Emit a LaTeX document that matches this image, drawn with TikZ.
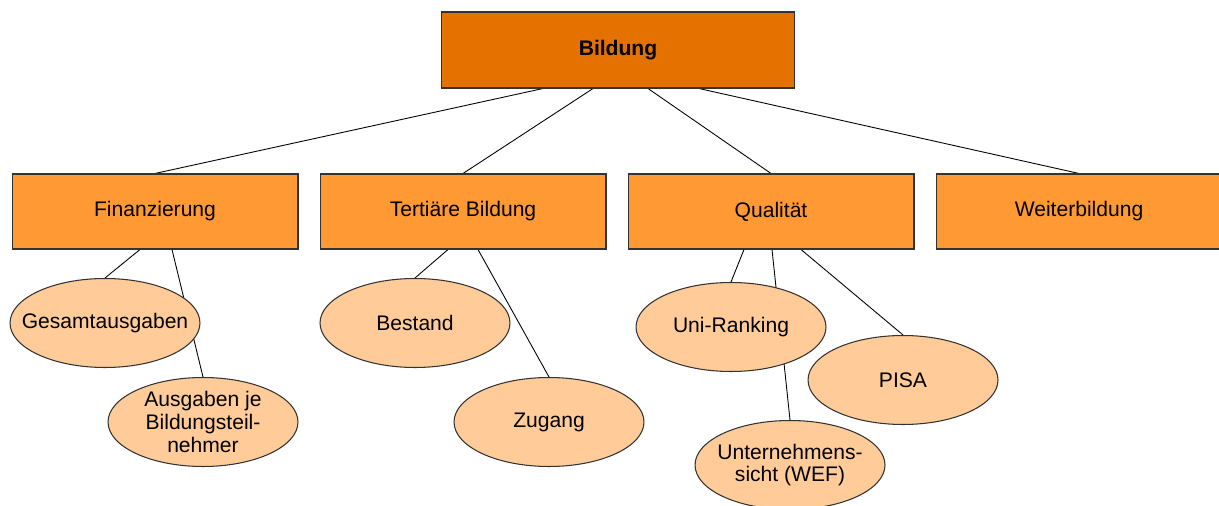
\documentclass[tikz,border=0pt]{standalone}
\usepackage{fontspec}
\setmainfont{Liberation Sans}
\usepackage[rgb]{xcolor}
\usetikzlibrary{calc,backgrounds,shapes.geometric}

\definecolor{topfill}{RGB}{229,114,0}
\definecolor{boxfill}{RGB}{255,153,51}
\definecolor{ellfill}{RGB}{255,204,153}

\begin{document}
\begin{tikzpicture}[x=0.02cm, y=-0.02cm,
                    every node/.style={font=\fontsize{12}{13}\selectfont, text=black},
                    topbox/.style={draw=black!80, line width=0.6pt, fill=topfill, minimum width=7.06cm, minimum height=1.52cm, font=\fontsize{12}{13}\selectfont\bfseries},
                    areabox/.style={draw=black!80, line width=0.6pt, fill=boxfill, minimum width=5.72cm, minimum height=1.5cm},
                    topic/.style={ellipse, draw=black!80, line width=0.6pt, fill=ellfill, minimum width=3.8cm, minimum height=1.78cm, inner xsep=-0.45cm, inner ysep=-0.2cm, align=center},
                    link/.style={draw=black, line width=0.5pt}]

                \useasboundingbox (0, 0) rectangle (1219, 506);

                \node[topbox] (bildung) at (618, 50) {Bildung};

                \node[areabox] (fin) at (155, 211.5) {Finanzierung};
                \node[areabox] (ter) at (463, 211.5) {Tertiäre Bildung};
                \node[areabox] (qual) at (771, 211.5) {Qualität};
                \node[areabox] (weit) at (1079, 211.5) {Weiterbildung};

                \node[topic] (ges) at (105, 323) {Gesamtausgaben};
                \node[topic] (ausg) at (203, 422) {Ausgaben je\\Bildungsteil-\\nehmer};
                \node[topic] (bes) at (415, 323) {Bestand};
                \node[topic] (zug) at (549, 422) {Zugang};
                \node[topic] (uni) at (731, 327) {Uni-Ranking};
                \node[topic] (pisa) at (903, 380) {PISA};
                \node[topic] (unt) at (790, 465) {Unternehmens-\\sicht (WEF)};

                \begin{scope}[on background layer]
                    \draw[link] ($(bildung.south)+(-75, 0)$) -- (fin.north);
                    \draw[link] ($(bildung.south)+(-25, 0)$) -- (ter.north);
                    \draw[link] ($(bildung.south)+(30, 0)$) -- (qual.north);
                    \draw[link] ($(bildung.south)+(81, 0)$) -- (weit.north);

                    \draw[link] ($(fin.south)+(-15, 0)$) -- (ges.north);
                    \draw[link] ($(fin.south)+(17, 0)$) -- (ausg.north);
                    \draw[link] ($(ter.south)+(-15, 0)$) -- (bes.north);
                    \draw[link] ($(ter.south)+(15, 0)$) -- (zug.north);
                    \draw[link] ($(qual.south)+(-27, 0)$) -- (uni.north);
                    \draw[link] ($(qual.south)+(1, 0)$) -- (unt.north);
                    \draw[link] ($(qual.south)+(30, 0)$) -- (pisa.north);
                \end{scope}

\end{tikzpicture}
\end{document}
